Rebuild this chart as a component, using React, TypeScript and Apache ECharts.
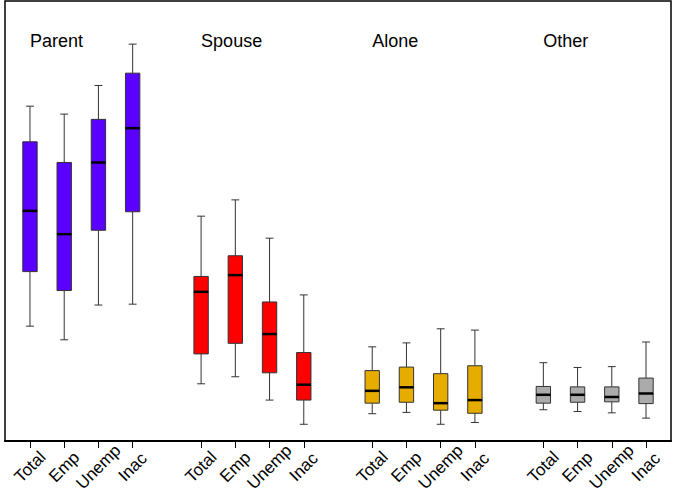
import React, { useEffect, useRef } from "react";
import * as echarts from "echarts";

// Group names, status categories and slot positions along the x axis
const groupNames = ["Parent", "Spouse", "Alone", "Other"];
const statusLabels = ["Total", "Emp", "Unemp", "Inac"];
const positions = [1, 2, 3, 4, 6, 7, 8, 9, 11, 12, 13, 14, 16, 17, 18, 19];
const groupColors = ["#5A00FF", "#FF0000", "#E6AD00", "#ABABAB"];

// Box statistics: [lower whisker, Q1, median, Q3, upper whisker]
const parentStats = [
  [26.1, 38.5, 52.3, 68.0, 76.1],
  [23.0, 34.2, 47.0, 63.3, 74.3],
  [30.9, 47.9, 63.3, 73.1, 80.8],
  [31.1, 52.1, 71.1, 83.6, 90.2],
];
const spouseStats = [
  [13.0, 19.8, 33.9, 37.4, 51.1],
  [14.6, 22.2, 37.7, 42.1, 54.8],
  [9.3, 15.5, 24.3, 31.6, 46.1],
  [3.8, 9.3, 12.8, 20.1, 33.2],
];
const aloneStats = [
  [6.2, 8.6, 11.4, 16.0, 21.4],
  [6.5, 8.8, 12.2, 16.8, 22.3],
  [3.8, 7.0, 8.6, 15.3, 25.5],
  [4.2, 6.3, 9.3, 17.1, 25.2],
];
const otherStats = [
  [7.1, 8.6, 10.5, 12.4, 17.8],
  [6.7, 8.8, 10.5, 12.3, 16.7],
  [6.4, 8.9, 10.0, 12.3, 16.9],
  [5.2, 8.5, 10.8, 14.3, 22.5],
];

const allStats = [parentStats, spouseStats, aloneStats, otherStats];
const FONT = "'Liberation Sans', Arial, Helvetica, sans-serif";

export default function App() {
  const ref = useRef<HTMLDivElement>(null);
  useEffect(() => {
    if (!ref.current) return;
    const chart = echarts.init(ref.current, null, { renderer: "svg" });

    const labelByPos: Record<number, string> = {};
    positions.forEach((p, i) => (labelByPos[p] = statusLabels[i % 4]));

    const boxSeries = allStats.map((stats, g) => ({
      type: "custom",
      name: groupNames[g],
      encode: { x: 0, y: [1, 2, 3, 4, 5] },
      data: stats.map((s, i) => [positions[g * 4 + i], ...s]),
      renderItem: (params: any, api: any) => {
        const x = api.value(0);
        const pLow = api.coord([x, api.value(1)]);
        const pQ1 = api.coord([x, api.value(2)]);
        const pMed = api.coord([x, api.value(3)]);
        const pQ3 = api.coord([x, api.value(4)]);
        const pHigh = api.coord([x, api.value(5)]);
        const cx = pMed[0];
        const hw = api.size([1, 0])[0] * 0.21;
        const cw = hw * 0.55;
        const wStyle = { stroke: "#333", lineWidth: 1 };
        return {
          type: "group",
          children: [
            { type: "line", shape: { x1: cx, y1: pQ3[1], x2: cx, y2: pHigh[1] }, style: wStyle },
            { type: "line", shape: { x1: cx, y1: pQ1[1], x2: cx, y2: pLow[1] }, style: wStyle },
            { type: "line", shape: { x1: cx - cw, y1: pHigh[1], x2: cx + cw, y2: pHigh[1] }, style: wStyle },
            { type: "line", shape: { x1: cx - cw, y1: pLow[1], x2: cx + cw, y2: pLow[1] }, style: wStyle },
            {
              type: "rect",
              shape: { x: cx - hw, y: pQ3[1], width: hw * 2, height: pQ1[1] - pQ3[1] },
              style: { fill: groupColors[g], stroke: "#333", lineWidth: 1 },
            },
            {
              type: "line",
              shape: { x1: cx - hw, y1: pMed[1], x2: cx + hw, y2: pMed[1] },
              style: { stroke: "#000", lineWidth: 2.5 },
            },
          ],
        };
      },
    }));

    const titleSeries = {
      type: "custom",
      encode: { x: 0 },
      data: groupNames.map((n, g) => [positions[g * 4]]),
      renderItem: (params: any, api: any) => {
        const p = api.coord([api.value(0), 0]);
        return {
          type: "text",
          x: p[0],
          y: params.coordSys.y + 40,
          style: {
            text: groupNames[params.dataIndex],
            fontSize: 18,
            fontFamily: FONT,
            fill: "#000",
            textAlign: "left",
            textVerticalAlign: "middle",
          },
        };
      },
    };

    chart.setOption({
      animation: false,
      grid: {
        left: 5,
        right: 2,
        top: 1,
        bottom: 55,
        show: true,
        borderColor: "#000",
        borderWidth: 1.5,
        backgroundColor: "#fff",
      },
      xAxis: {
        type: "value",
        min: 0.27,
        max: 19.73,
        splitLine: { show: false },
        axisLine: { show: true, onZero: false, lineStyle: { color: "#000", width: 2 } },
        axisTick: {
          show: true,
          customValues: positions,
          length: 7,
          lineStyle: { color: "#000", width: 1 },
        },
        axisLabel: {
          show: true,
          customValues: positions,
          formatter: (v: number) => labelByPos[Math.round(v)] || "",
          rotate: 45,
          align: "center",
          verticalAlign: "middle",
          margin: 26,
          fontSize: 17,
          fontFamily: FONT,
          color: "#000",
        },
      },
      yAxis: {
        type: "value",
        min: 0,
        max: 100,
        show: false,
        splitLine: { show: false },
      },
      series: [...boxSeries, titleSeries],
    });
    return () => chart.dispose();
  }, []);
  return (
    <div
      ref={ref}
      style={{ position: "absolute", left: 0, top: 0, width: 673, height: 496, background: "#fff" }}
    />
  );
}
